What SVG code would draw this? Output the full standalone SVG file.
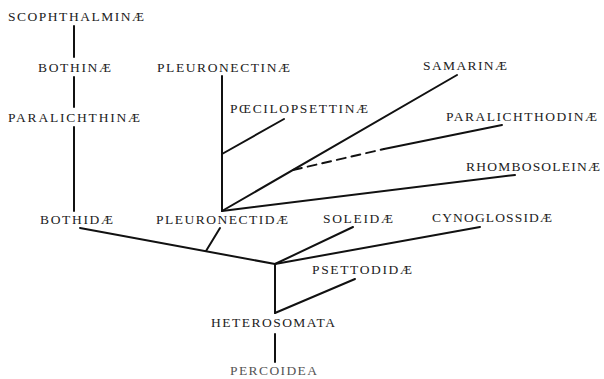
<svg xmlns="http://www.w3.org/2000/svg" width="604" height="379" viewBox="0 0 604 379">
<style>
text{font-family:"Liberation Serif","DejaVu Serif",serif;font-size:13.5px;fill:#222}
.c line{stroke:#111;stroke-width:2;stroke-linecap:round}
.c .d{stroke-dasharray:9,6}
</style>
<rect width="604" height="379" fill="#fff"/>
<g class="c" id="connectors">
<line x1="74" y1="26" x2="74" y2="57"/>
<line x1="74" y1="77" x2="74" y2="107"/>
<line x1="74" y1="127" x2="74" y2="211"/>
<line x1="222" y1="76" x2="222" y2="211"/>
<line x1="222" y1="154" x2="284" y2="119"/>
<line x1="222" y1="211" x2="457" y2="75"/>
<line class="d" x1="293" y1="170" x2="384" y2="149"/>
<line x1="384" y1="149" x2="502" y2="125"/>
<line x1="222" y1="211" x2="515" y2="175"/>
<line x1="80" y1="228" x2="275" y2="264"/>
<line x1="220" y1="228" x2="206" y2="251"/>
<line x1="275" y1="264" x2="353" y2="227"/>
<line x1="275" y1="264" x2="480" y2="227"/>
<line x1="275" y1="264" x2="275" y2="313"/>
<line x1="275" y1="313" x2="355" y2="279"/>
<line x1="275" y1="334" x2="275" y2="362"/>
</g>
<g id="scophthalminae"><text x="8" y="21" textLength="136" lengthAdjust="spacing">SCOPHTHALMINÆ</text></g>
<g id="bothinae"><text x="38" y="72" textLength="73" lengthAdjust="spacing">BOTHINÆ</text></g>
<g id="paralichthinae"><text x="8" y="122" textLength="132" lengthAdjust="spacing">PARALICHTHINÆ</text></g>
<g id="bothidae"><text x="40" y="224" textLength="73" lengthAdjust="spacing">BOTHIDÆ</text></g>
<g id="pleuronectinae"><text x="157" y="72" textLength="133" lengthAdjust="spacing">PLEURONECTINÆ</text></g>
<g id="poecilopsettinae"><text x="230" y="113" textLength="138" lengthAdjust="spacing">PŒCILOPSETTINÆ</text></g>
<g id="samarinae"><text x="423" y="70" textLength="84" lengthAdjust="spacing">SAMARINÆ</text></g>
<g id="paralichthodinae"><text x="446" y="121" textLength="151" lengthAdjust="spacing">PARALICHTHODINÆ</text></g>
<g id="rhombosoleinae"><text x="466" y="171" textLength="134" lengthAdjust="spacing">RHOMBOSOLEINÆ</text></g>
<g id="pleuronectidae"><text x="156" y="224" textLength="132" lengthAdjust="spacing">PLEURONECTIDÆ</text></g>
<g id="soleidae"><text x="323" y="223" textLength="70" lengthAdjust="spacing">SOLEIDÆ</text></g>
<g id="cynoglossidae"><text x="432" y="222" textLength="120" lengthAdjust="spacing">CYNOGLOSSIDÆ</text></g>
<g id="psettodidae"><text x="312" y="274" textLength="100" lengthAdjust="spacing">PSETTODIDÆ</text></g>
<g id="heterosomata"><text x="211" y="327" textLength="124" lengthAdjust="spacing">HETEROSOMATA</text></g>
<g id="percoidea"><text x="230" y="375" textLength="87" lengthAdjust="spacing" style="fill:#555">PERCOIDEA</text></g>
</svg>
